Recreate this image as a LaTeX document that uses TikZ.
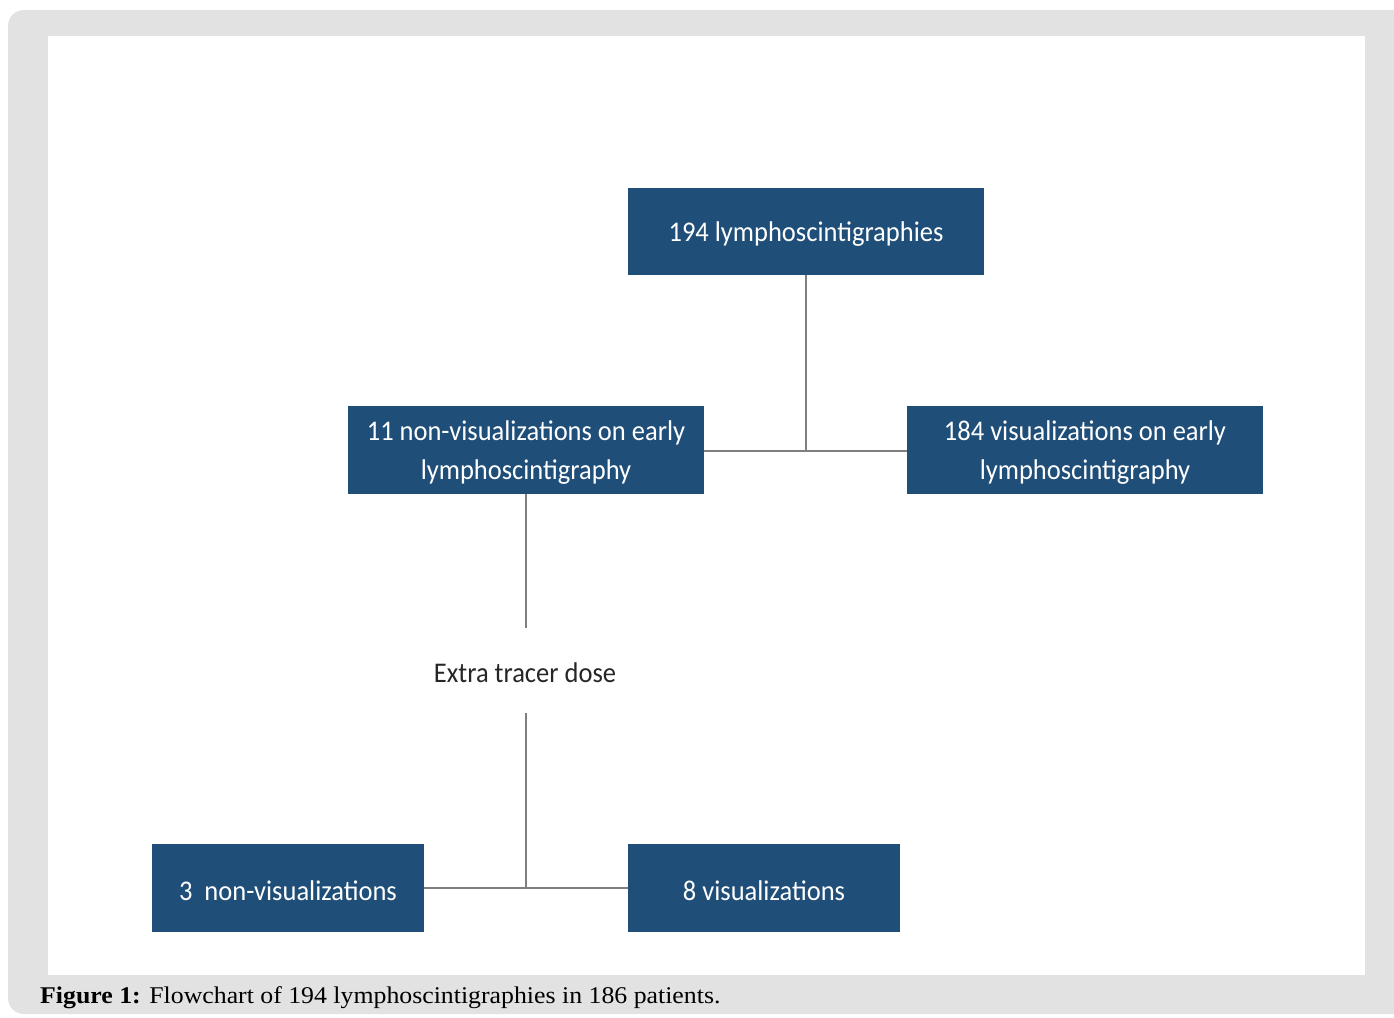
\documentclass[tikz,border=0pt]{standalone}
\usepackage{fontspec}
\setmainfont{Liberation Serif}
\newfontfamily\boxfont{Carlito}
\definecolor{boxblue}{HTML}{1F4E79}
\definecolor{panelgray}{HTML}{E2E2E2}
\definecolor{linegray}{HTML}{7F7F7F}
\newcommand\sqz[1]{\raisebox{-3pt}[\height][\depth]{\scalebox{0.93}[1]{#1}}}
\begin{document}
\begin{tikzpicture}[x=1pt,y=-1pt,
  bluebox/.style={fill=boxblue, text=white, inner sep=0pt, font=\boxfont\fontsize{28.5}{39}\selectfont, align=center},
  conn/.style={draw=linegray, line width=2pt}]
\useasboundingbox (0,0) rectangle (1394,1017);
\fill[white] (0,0) rectangle (1394,1017);
\fill[panelgray, rounded corners=16pt] (8,10) rectangle (1420,1014);
\fill[white] (48,36) rectangle (1365,975);
% boxes
\node[bluebox, minimum width=356pt, minimum height=87pt] (top) at (806,231.5) {\sqz{194 lymphoscintigraphies}};
\node[bluebox, minimum width=356pt, minimum height=88pt] (nonvis) at (526,450) {\sqz{11 non-visualizations on early}\\\sqz{lymphoscintigraphy}};
\node[bluebox, minimum width=356pt, minimum height=88pt] (vis) at (1085,450) {\sqz{184 visualizations on early}\\\sqz{lymphoscintigraphy}};
\node[bluebox, minimum width=272pt, minimum height=88pt] (nv3) at (288,888) {\sqz{3\ \ non-visualizations}};
\node[bluebox, minimum width=272pt, minimum height=88pt] (v8) at (764,888) {\sqz{8 visualizations}};
\node[font=\boxfont\fontsize{28.5}{32}\selectfont, text=black!85, inner sep=0pt] (extra) at (525,670) {\sqz{Extra tracer dose}};
% connectors
\coordinate (j1) at (806,451);
\coordinate (e1) at (526,628);
\coordinate (e2) at (526,713);
\coordinate (j2) at (526,888);
\draw[conn] (top.south) -- (j1);
\draw[conn] (nonvis.east |- j1) -- (vis.west |- j1);
\draw[conn] (nonvis.south) -- (e1);
\draw[conn] (e2) -- (j2);
\draw[conn] (nv3.east) -- (v8.west);
% caption
\node[anchor=west, inner sep=0pt, font=\fontsize{24}{28}\selectfont] (cap) at (40,998) {\scalebox{1.075}[1]{\textbf{Figure 1:} Flowchart of 194 lymphoscintigraphies in 186 patients.}};
\end{tikzpicture}
\end{document}
